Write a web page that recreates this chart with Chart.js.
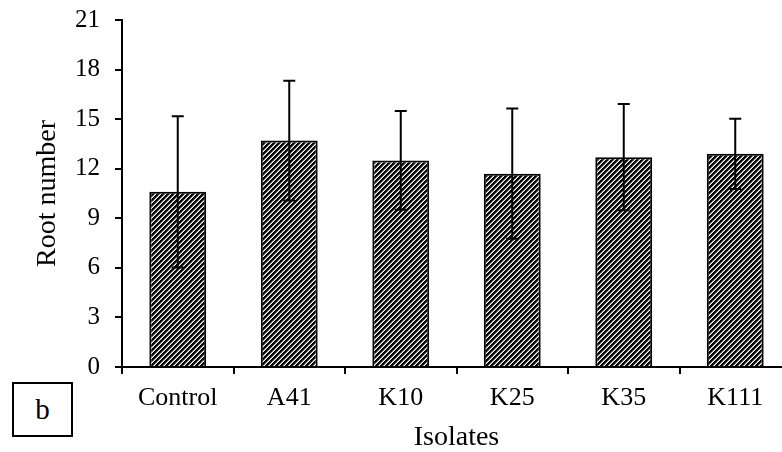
<!DOCTYPE html>
<html>
<head>
<meta charset="utf-8">
<script src="https://cdn.jsdelivr.net/npm/chart.js@4"></script>
<style>
  html, body { margin: 0; padding: 0; background: #fff; overflow: hidden; width: 782px; height: 452px; }
  #wrap { position: relative; width: 792px; height: 452px; }
  #panel {
    position: absolute; left: 12px; top: 382px; width: 57px; height: 51px;
    border: 2px solid #000; font-family: "Liberation Serif", "Times New Roman", serif;
    font-size: 29px; line-height: 51px; text-align: center; color: #000; background: #fff;
  }
</style>
</head>
<body>
<div id="wrap">
  <canvas id="c" width="792" height="452"></canvas>
  <div id="panel">b</div>
</div>
<script>
const categories = ['Control', 'A41', 'K10', 'K25', 'K35', 'K111'];
const means = [10.6, 13.7, 12.5, 11.7, 12.7, 12.9];
const errors = [4.58, 3.63, 2.99, 3.94, 3.22, 2.13];
const yTicks = [0, 3, 6, 9, 12, 15, 18, 21];

function makeHatch() {
  const t = document.createElement('canvas');
  t.width = 5; t.height = 5;
  const g = t.getContext('2d');
  g.fillStyle = '#fff';
  g.fillRect(0, 0, 5, 5);
  const shades = ['#000', '#000', '#1a1a1a', '#999', '#fff'];
  for (let x = 0; x < 5; x++) {
    for (let y = 0; y < 5; y++) {
      const k = (x + y) % 5;
      g.fillStyle = shades[k];
      g.fillRect(x, y, 1, 1);
    }
  }
  return document.getElementById('c').getContext('2d').createPattern(t, 'repeat');
}

const errorBars = {
  id: 'errorBars',
  afterDatasetsDraw(chart) {
    const ctx = chart.ctx;
    const y = chart.scales.y;
    const meta = chart.getDatasetMeta(0);
    ctx.save();
    ctx.strokeStyle = '#000';
    ctx.lineWidth = 2;
    meta.data.forEach((bar, i) => {
      const x = bar.x;
      const top = y.getPixelForValue(means[i] + errors[i]);
      const bot = y.getPixelForValue(means[i] - errors[i]);
      const cap = 6;
      ctx.beginPath();
      ctx.moveTo(x, top); ctx.lineTo(x, bot);
      ctx.moveTo(x - cap, top); ctx.lineTo(x + cap, top);
      ctx.moveTo(x - cap, bot); ctx.lineTo(x + cap, bot);
      ctx.stroke();
    });
    ctx.restore();
  }
};

const serif = '"Liberation Serif", "Times New Roman", serif';

new Chart(document.getElementById('c'), {
  type: 'bar',
  data: {
    labels: categories,
    datasets: [{
      data: means,
      backgroundColor: makeHatch(),
      borderColor: '#000',
      borderWidth: 2,
      barPercentage: 0.51,
      categoryPercentage: 1.0
    }]
  },
  options: {
    responsive: false,
    animation: false,
    events: [],
    layout: { padding: { top: 20, right: 1, bottom: 0, left: 0 } },
    plugins: { legend: { display: false }, tooltip: { enabled: false } },
    scales: {
      x: {
        offset: true,
        grid: { display: true, drawOnChartArea: false, drawTicks: true, tickLength: 7, color: '#000', lineWidth: 2, offset: true },
        border: { display: true, color: '#000', width: 2 },
        ticks: { color: '#000', font: { family: serif, size: 26 }, padding: 9, maxRotation: 0, autoSkip: false },
        title: { display: true, text: 'Isolates', color: '#000', font: { family: serif, size: 28, lineHeight: 1 }, padding: { top: 0, bottom: 0 } },
        afterFit(s) { s.height = 85; s.paddingLeft = 0; s.paddingRight = 0; }
      },
      y: {
        min: 0, max: 21,
        afterBuildTicks(s) { s.ticks = yTicks.map(v => ({ value: v })); },
        grid: { display: true, drawOnChartArea: false, drawTicks: true, tickLength: 7, color: '#000', lineWidth: 2 },
        border: { display: true, color: '#000', width: 2 },
        ticks: { color: '#000', font: { family: serif, size: 25 }, padding: 15 },
        title: { display: true, text: 'Root number', color: '#000', font: { family: serif, size: 28, lineHeight: 1 }, padding: { top: 34, bottom: 0 } },
        afterFit(s) { s.width = 122; s.paddingTop = 0; s.paddingBottom = 0; }
      }
    }
  },
  plugins: [errorBars]
});
</script>
</body>
</html>
